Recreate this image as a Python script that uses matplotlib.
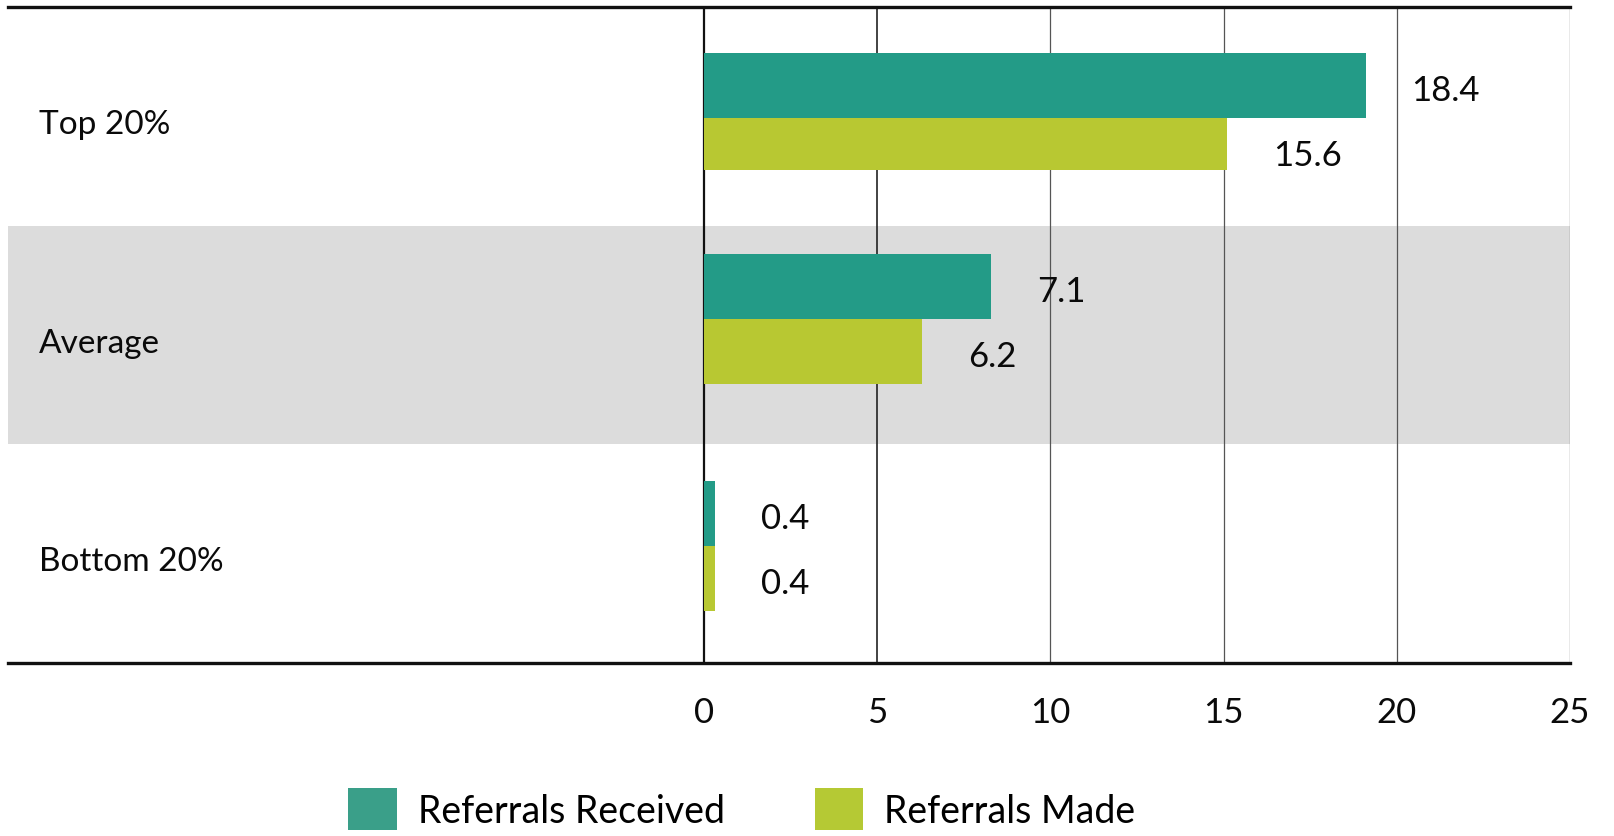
import matplotlib
matplotlib.use("Agg")
import matplotlib.pyplot as plt
from matplotlib.patches import Patch
import numpy as np

categories = ["Top 20%", "Average", "Bottom 20%"]
received = [19.1, 8.3, 0.32]
made = [15.1, 6.3, 0.32]
received_labels = ["18.4", "7.1", "0.4"]
made_labels = ["15.6", "6.2", "0.4"]
xticks = [0, 5, 10, 15, 20, 25]
series_names = ["Referrals Received", "Referrals Made"]

C_REC = "#239b87"
C_MADE = "#b8c832"
C_REC_LEG = "#3a9f89"
C_MADE_LEG = "#b5c934"
TXT = "#0a0a0a"

plt.rcParams['font.family'] = ['Lato', 'DejaVu Sans']

fig = plt.figure(figsize=(16.14, 8.37), dpi=100)
ax = fig.add_axes([0.005, 0.2067, 0.9677, 0.7837])

ax.set_xlim(-20.09, 25)
ax.set_ylim(2.5, -0.5)

# gray band for middle category
ax.axhspan(0.5, 1.5, color="#dcdcdc", zorder=0, lw=0)

# gridlines
for v in xticks:
    if v == 0:
        ax.axvline(v, color="#111111", lw=1.6, zorder=1)
    elif v == 5:
        ax.axvline(v, color="#222222", lw=1.2, zorder=1)
    else:
        ax.axvline(v, color="#555555", lw=0.9, zorder=1)

y = np.arange(len(categories))
shift = np.array([0.007, -0.073, -0.034])
h = 0.297
h_made = np.array([0.24, 0.297, 0.297])
yc = y + shift
ax.barh(yc - h / 2, received, height=h, color=C_REC, zorder=2, lw=0)
ax.barh(yc + h_made / 2, made, height=h_made, color=C_MADE, zorder=2, lw=0)

for i in range(len(categories)):
    ax.annotate(received_labels[i], (received[i], yc[i] - h / 2), xytext=(33, -3),
                textcoords="offset points", ha="left", va="center", fontsize=25, color=TXT)
    ax.annotate(made_labels[i], (made[i], yc[i] + h / 2), xytext=(33, -3),
                textcoords="offset points", ha="left", va="center", fontsize=25, color=TXT)
    ax.text(-19.2, y[i] + 0.035, categories[i], ha="left", va="center", fontsize=24, color=TXT)

for s in ["left", "right"]:
    ax.spines[s].set_visible(False)
ax.spines["top"].set_linewidth(2.4)
ax.spines["bottom"].set_linewidth(2.4)
ax.spines["top"].set_color("#111111")
ax.spines["bottom"].set_color("#111111")

ax.set_yticks([])
ax.set_xticks(xticks)
ax.set_xticklabels([str(v) for v in xticks], fontsize=25, color=TXT)
ax.tick_params(axis="x", length=0, pad=24)

handles = [Patch(facecolor=C_REC_LEG, edgecolor="none"), Patch(facecolor=C_MADE_LEG, edgecolor="none")]
fig.legend(handles, series_names, loc="center", bbox_to_anchor=(0.4595, 0.032), ncol=2,
           frameon=False, fontsize=27, handlelength=1.3, handleheight=1.35,
           handletextpad=0.55, columnspacing=2.4)

fig.savefig("out.png", dpi=100)
